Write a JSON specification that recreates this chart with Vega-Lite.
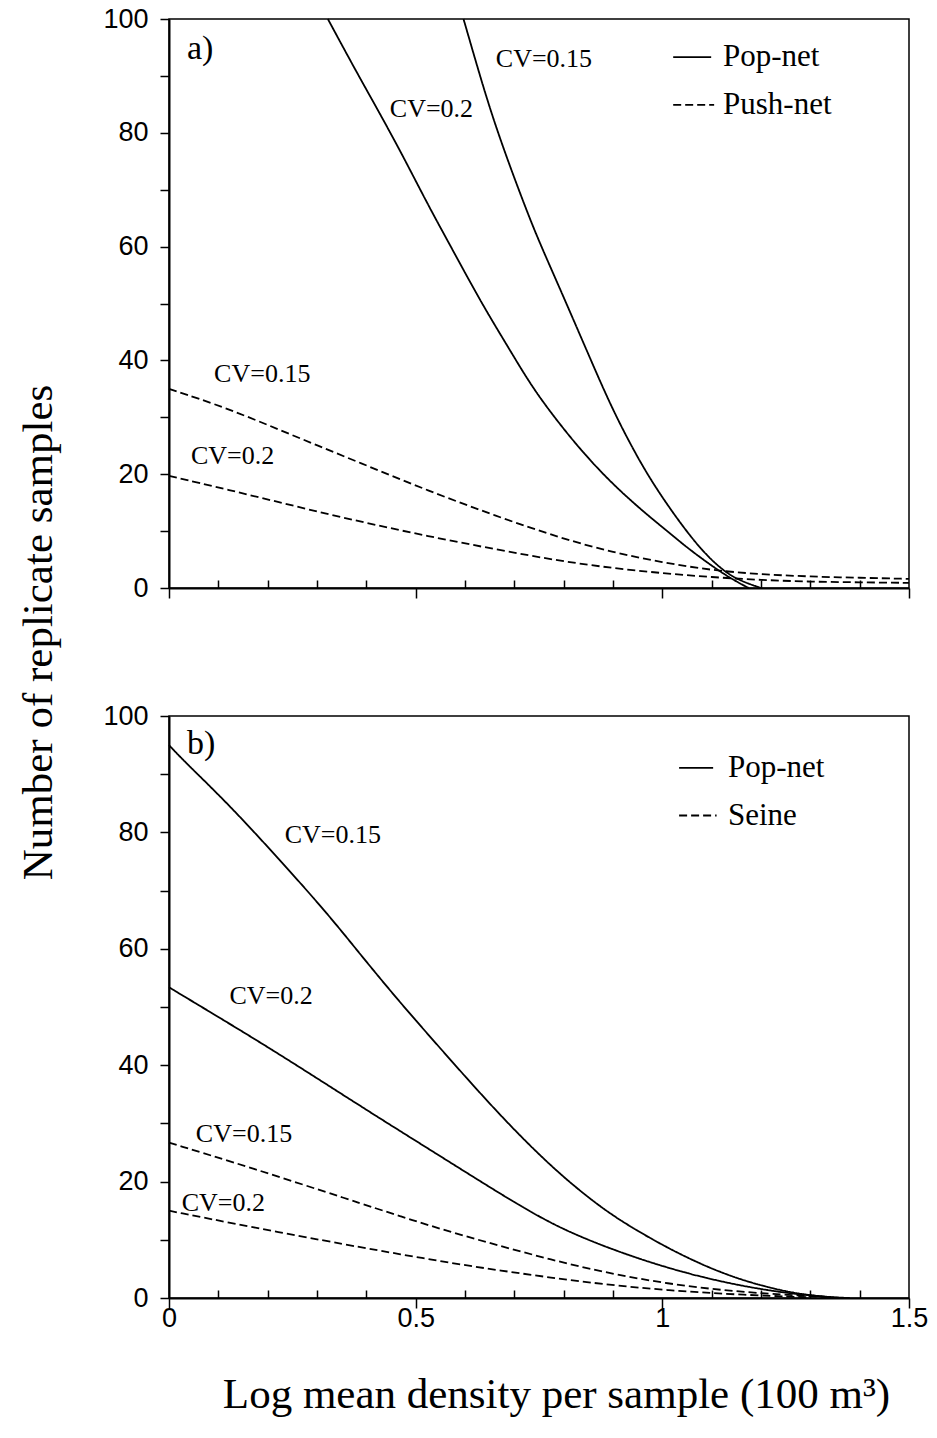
{
  "$schema": "https://vega.github.io/schema/vega-lite/v6.json",
  "background": "white",
  "padding": {"left": 16, "top": 4, "right": 5, "bottom": 5},
  "bounds": "flush",
  "spacing": 128,
  "config": {
    "view": {"stroke": "black", "strokeWidth": 1.5},
    "axis": {"domainColor": "black", "tickColor": "black", "labelColor": "black", "titleColor": "black", "grid": false, "domainWidth": 2, "tickWidth": 1.5}
  },
  "datasets": {
    "curvesA": [
      {"series": "pop02", "gear": "Pop-net", "x": 0.322, "y": 100},
      {"series": "pop02", "gear": "Pop-net", "x": 0.378, "y": 91},
      {"series": "pop02", "gear": "Pop-net", "x": 0.43, "y": 83},
      {"series": "pop02", "gear": "Pop-net", "x": 0.478, "y": 75.3},
      {"series": "pop02", "gear": "Pop-net", "x": 0.524, "y": 67.5},
      {"series": "pop02", "gear": "Pop-net", "x": 0.565, "y": 61},
      {"series": "pop02", "gear": "Pop-net", "x": 0.605, "y": 54.6},
      {"series": "pop02", "gear": "Pop-net", "x": 0.645, "y": 48.4},
      {"series": "pop02", "gear": "Pop-net", "x": 0.687, "y": 42.4},
      {"series": "pop02", "gear": "Pop-net", "x": 0.72, "y": 37.6},
      {"series": "pop02", "gear": "Pop-net", "x": 0.755, "y": 33},
      {"series": "pop02", "gear": "Pop-net", "x": 0.81, "y": 26.8},
      {"series": "pop02", "gear": "Pop-net", "x": 0.864, "y": 21.4},
      {"series": "pop02", "gear": "Pop-net", "x": 0.915, "y": 17},
      {"series": "pop02", "gear": "Pop-net", "x": 0.966, "y": 13.1},
      {"series": "pop02", "gear": "Pop-net", "x": 1.01, "y": 10},
      {"series": "pop02", "gear": "Pop-net", "x": 1.05, "y": 7.1},
      {"series": "pop02", "gear": "Pop-net", "x": 1.1, "y": 3.9},
      {"series": "pop02", "gear": "Pop-net", "x": 1.14, "y": 1.6},
      {"series": "pop02", "gear": "Pop-net", "x": 1.175, "y": 0},
      {"series": "pop015", "gear": "Pop-net", "x": 0.597, "y": 100},
      {"series": "pop015", "gear": "Pop-net", "x": 0.621, "y": 92.8},
      {"series": "pop015", "gear": "Pop-net", "x": 0.645, "y": 85.8},
      {"series": "pop015", "gear": "Pop-net", "x": 0.667, "y": 80},
      {"series": "pop015", "gear": "Pop-net", "x": 0.69, "y": 74.4},
      {"series": "pop015", "gear": "Pop-net", "x": 0.715, "y": 68.6},
      {"series": "pop015", "gear": "Pop-net", "x": 0.741, "y": 62.8},
      {"series": "pop015", "gear": "Pop-net", "x": 0.769, "y": 57.2},
      {"series": "pop015", "gear": "Pop-net", "x": 0.796, "y": 51.9},
      {"series": "pop015", "gear": "Pop-net", "x": 0.823, "y": 46.5},
      {"series": "pop015", "gear": "Pop-net", "x": 0.85, "y": 41.1},
      {"series": "pop015", "gear": "Pop-net", "x": 0.877, "y": 35.7},
      {"series": "pop015", "gear": "Pop-net", "x": 0.905, "y": 30.4},
      {"series": "pop015", "gear": "Pop-net", "x": 0.94, "y": 24.5},
      {"series": "pop015", "gear": "Pop-net", "x": 0.975, "y": 19.2},
      {"series": "pop015", "gear": "Pop-net", "x": 1.015, "y": 14},
      {"series": "pop015", "gear": "Pop-net", "x": 1.054, "y": 9.4},
      {"series": "pop015", "gear": "Pop-net", "x": 1.085, "y": 6.2},
      {"series": "pop015", "gear": "Pop-net", "x": 1.116, "y": 3.6},
      {"series": "pop015", "gear": "Pop-net", "x": 1.15, "y": 1.5},
      {"series": "pop015", "gear": "Pop-net", "x": 1.2, "y": 0},
      {"series": "push015", "gear": "Push-net", "x": 0, "y": 35},
      {"series": "push015", "gear": "Push-net", "x": 0.119, "y": 31.6},
      {"series": "push015", "gear": "Push-net", "x": 0.254, "y": 26.7},
      {"series": "push015", "gear": "Push-net", "x": 0.39, "y": 21.9},
      {"series": "push015", "gear": "Push-net", "x": 0.525, "y": 17.1},
      {"series": "push015", "gear": "Push-net", "x": 0.661, "y": 12.7},
      {"series": "push015", "gear": "Push-net", "x": 0.796, "y": 8.7},
      {"series": "push015", "gear": "Push-net", "x": 0.898, "y": 6.3},
      {"series": "push015", "gear": "Push-net", "x": 1.0, "y": 4.5},
      {"series": "push015", "gear": "Push-net", "x": 1.1, "y": 3.1},
      {"series": "push015", "gear": "Push-net", "x": 1.2, "y": 2.4},
      {"series": "push015", "gear": "Push-net", "x": 1.3, "y": 2.0},
      {"series": "push015", "gear": "Push-net", "x": 1.4, "y": 1.8},
      {"series": "push015", "gear": "Push-net", "x": 1.5, "y": 1.6},
      {"series": "push02", "gear": "Push-net", "x": 0, "y": 19.7},
      {"series": "push02", "gear": "Push-net", "x": 0.119, "y": 17.3},
      {"series": "push02", "gear": "Push-net", "x": 0.254, "y": 14.4},
      {"series": "push02", "gear": "Push-net", "x": 0.39, "y": 11.6},
      {"series": "push02", "gear": "Push-net", "x": 0.525, "y": 9.1},
      {"series": "push02", "gear": "Push-net", "x": 0.661, "y": 6.8},
      {"series": "push02", "gear": "Push-net", "x": 0.796, "y": 4.7},
      {"series": "push02", "gear": "Push-net", "x": 0.898, "y": 3.5},
      {"series": "push02", "gear": "Push-net", "x": 1.0, "y": 2.6},
      {"series": "push02", "gear": "Push-net", "x": 1.1, "y": 1.9},
      {"series": "push02", "gear": "Push-net", "x": 1.2, "y": 1.4},
      {"series": "push02", "gear": "Push-net", "x": 1.3, "y": 1.1},
      {"series": "push02", "gear": "Push-net", "x": 1.4, "y": 1.0},
      {"series": "push02", "gear": "Push-net", "x": 1.5, "y": 0.9}
    ],
    "curvesB": [
      {"series": "pop015", "gear": "Pop-net", "x": 0, "y": 95},
      {"series": "pop015", "gear": "Pop-net", "x": 0.031, "y": 92.2},
      {"series": "pop015", "gear": "Pop-net", "x": 0.119, "y": 85},
      {"series": "pop015", "gear": "Pop-net", "x": 0.22, "y": 75.7},
      {"series": "pop015", "gear": "Pop-net", "x": 0.322, "y": 66},
      {"series": "pop015", "gear": "Pop-net", "x": 0.39, "y": 58.8},
      {"series": "pop015", "gear": "Pop-net", "x": 0.47, "y": 50.6},
      {"series": "pop015", "gear": "Pop-net", "x": 0.551, "y": 42.8},
      {"series": "pop015", "gear": "Pop-net", "x": 0.626, "y": 35.6},
      {"series": "pop015", "gear": "Pop-net", "x": 0.707, "y": 28.2},
      {"series": "pop015", "gear": "Pop-net", "x": 0.795, "y": 21},
      {"series": "pop015", "gear": "Pop-net", "x": 0.882, "y": 15.1},
      {"series": "pop015", "gear": "Pop-net", "x": 0.95, "y": 11.5},
      {"series": "pop015", "gear": "Pop-net", "x": 1.011, "y": 8.6},
      {"series": "pop015", "gear": "Pop-net", "x": 1.078, "y": 5.8},
      {"series": "pop015", "gear": "Pop-net", "x": 1.146, "y": 3.5},
      {"series": "pop015", "gear": "Pop-net", "x": 1.214, "y": 1.8},
      {"series": "pop015", "gear": "Pop-net", "x": 1.281, "y": 0.6},
      {"series": "pop015", "gear": "Pop-net", "x": 1.348, "y": 0.1},
      {"series": "pop015", "gear": "Pop-net", "x": 1.38, "y": 0},
      {"series": "pop02", "gear": "Pop-net", "x": 0, "y": 53.4},
      {"series": "pop02", "gear": "Pop-net", "x": 0.031, "y": 51.8},
      {"series": "pop02", "gear": "Pop-net", "x": 0.2, "y": 43.2},
      {"series": "pop02", "gear": "Pop-net", "x": 0.369, "y": 34},
      {"series": "pop02", "gear": "Pop-net", "x": 0.47, "y": 28.6},
      {"series": "pop02", "gear": "Pop-net", "x": 0.538, "y": 25},
      {"series": "pop02", "gear": "Pop-net", "x": 0.63, "y": 20.1},
      {"series": "pop02", "gear": "Pop-net", "x": 0.72, "y": 15.4},
      {"series": "pop02", "gear": "Pop-net", "x": 0.808, "y": 11.3},
      {"series": "pop02", "gear": "Pop-net", "x": 0.943, "y": 6.9},
      {"series": "pop02", "gear": "Pop-net", "x": 1.078, "y": 3.5},
      {"series": "pop02", "gear": "Pop-net", "x": 1.214, "y": 1.2},
      {"series": "pop02", "gear": "Pop-net", "x": 1.315, "y": 0.3},
      {"series": "pop02", "gear": "Pop-net", "x": 1.36, "y": 0},
      {"series": "seine015", "gear": "Seine", "x": 0, "y": 26.7},
      {"series": "seine015", "gear": "Seine", "x": 0.166, "y": 22.4},
      {"series": "seine015", "gear": "Seine", "x": 0.369, "y": 16.8},
      {"series": "seine015", "gear": "Seine", "x": 0.47, "y": 14},
      {"series": "seine015", "gear": "Seine", "x": 0.572, "y": 11.3},
      {"series": "seine015", "gear": "Seine", "x": 0.673, "y": 8.9},
      {"series": "seine015", "gear": "Seine", "x": 0.774, "y": 6.6},
      {"series": "seine015", "gear": "Seine", "x": 0.876, "y": 4.5},
      {"series": "seine015", "gear": "Seine", "x": 1.011, "y": 2.4},
      {"series": "seine015", "gear": "Seine", "x": 1.146, "y": 1.1},
      {"series": "seine015", "gear": "Seine", "x": 1.281, "y": 0.4},
      {"series": "seine015", "gear": "Seine", "x": 1.34, "y": 0.1},
      {"series": "seine02", "gear": "Seine", "x": 0, "y": 15},
      {"series": "seine02", "gear": "Seine", "x": 0.166, "y": 12.2},
      {"series": "seine02", "gear": "Seine", "x": 0.369, "y": 9},
      {"series": "seine02", "gear": "Seine", "x": 0.47, "y": 7.5},
      {"series": "seine02", "gear": "Seine", "x": 0.572, "y": 6},
      {"series": "seine02", "gear": "Seine", "x": 0.673, "y": 4.7},
      {"series": "seine02", "gear": "Seine", "x": 0.774, "y": 3.5},
      {"series": "seine02", "gear": "Seine", "x": 0.876, "y": 2.4},
      {"series": "seine02", "gear": "Seine", "x": 1.011, "y": 1.3},
      {"series": "seine02", "gear": "Seine", "x": 1.146, "y": 0.6},
      {"series": "seine02", "gear": "Seine", "x": 1.3, "y": 0.1}
    ],
    "labelsA": [
      {"x": 0.76, "y": 92.9, "label": "CV=0.15"},
      {"x": 0.532, "y": 84.2, "label": "CV=0.2"},
      {"x": 0.189, "y": 37.6, "label": "CV=0.15"},
      {"x": 0.129, "y": 23.2, "label": "CV=0.2"}
    ],
    "labelsB": [
      {"x": 0.332, "y": 79.6, "label": "CV=0.15"},
      {"x": 0.207, "y": 51.9, "label": "CV=0.2"},
      {"x": 0.152, "y": 28.2, "label": "CV=0.15"},
      {"x": 0.11, "y": 16.3, "label": "CV=0.2"}
    ],
    "panelA": [{"x": 0.063, "y": 94.7, "label": "a)"}],
    "panelB": [{"x": 0.065, "y": 95.2, "label": "b)"}],
    "legLinesA": [
      {"item": "p", "gear": "Pop-net", "x": 1.022, "y": 93.3},
      {"item": "p", "gear": "Pop-net", "x": 1.099, "y": 93.3},
      {"item": "q", "gear": "Push-net", "x": 1.022, "y": 84.9},
      {"item": "q", "gear": "Push-net", "x": 1.105, "y": 84.9}
    ],
    "legTextA": [
      {"x": 1.123, "y": 93.3, "label": "Pop-net"},
      {"x": 1.123, "y": 84.9, "label": "Push-net"}
    ],
    "legLinesB": [
      {"item": "p", "gear": "Pop-net", "x": 1.034, "y": 91.1},
      {"item": "p", "gear": "Pop-net", "x": 1.103, "y": 91.1},
      {"item": "q", "gear": "Seine", "x": 1.034, "y": 82.9},
      {"item": "q", "gear": "Seine", "x": 1.11, "y": 82.9}
    ],
    "legTextB": [
      {"x": 1.133, "y": 91.1, "label": "Pop-net"},
      {"x": 1.133, "y": 82.9, "label": "Seine"}
    ]
  },
  "vconcat": [
    {
      "width": 740,
      "height": 569,
      "encoding": {
        "x": {"field": "x", "type": "quantitative", "scale": {"domain": [0, 1.5], "nice": false},
          "axis": {"values": [0, 0.1, 0.2, 0.3, 0.4, 0.5, 0.6, 0.7, 0.8, 0.9, 1, 1.1, 1.2, 1.3, 1.4, 1.5], "labels": false, "title": null,
            "tickSize": {"condition": {"test": "abs(datum.value*2 - round(datum.value*2)) < 0.001", "value": 10}, "value": -8}}},
        "y": {"field": "y", "type": "quantitative", "scale": {"domain": [0, 100], "nice": false},
          "axis": {"values": [0, 10, 20, 30, 40, 50, 60, 70, 80, 90, 100], "labelExpr": "datum.value % 20 === 0 ? datum.label : ''",
            "tickSize": 9, "labelPadding": 12, "labelFont": "Liberation Sans", "labelFontSize": 27,
            "title": "Number of replicate samples", "titleFont": "Liberation Serif", "titleFontSize": 43, "titleFontWeight": "normal",
            "titleAngle": 270, "titleX": -131, "titleY": 613, "titleAlign": "center", "titleBaseline": "middle"}}
      },
      "layer": [
        {"data": {"name": "curvesA"}, "mark": {"type": "line", "color": "black", "strokeWidth": 1.8, "interpolate": "basis"},
          "encoding": {"detail": {"field": "series"},
            "strokeDash": {"field": "gear", "type": "nominal", "scale": {"domain": ["Pop-net", "Push-net"], "range": [[1, 0], [8, 4]]}, "legend": null}}},
        {"data": {"name": "legLinesA"}, "mark": {"type": "line", "color": "black", "strokeWidth": 1.8},
          "encoding": {"detail": {"field": "item"},
            "strokeDash": {"field": "gear", "type": "nominal", "legend": null}}},
        {"data": {"name": "labelsA"}, "mark": {"type": "text", "font": "Liberation Serif", "fontSize": 26, "align": "center", "baseline": "middle", "color": "black"},
          "encoding": {"text": {"field": "label"}}},
        {"data": {"name": "panelA"}, "mark": {"type": "text", "font": "Liberation Serif", "fontSize": 34, "align": "center", "baseline": "middle", "color": "black"},
          "encoding": {"text": {"field": "label"}}},
        {"data": {"name": "legTextA"}, "mark": {"type": "text", "font": "Liberation Serif", "fontSize": 31, "align": "left", "baseline": "middle", "color": "black"},
          "encoding": {"text": {"field": "label"}}}
      ]
    },
    {
      "width": 740,
      "height": 582,
      "encoding": {
        "x": {"field": "x", "type": "quantitative", "scale": {"domain": [0, 1.5], "nice": false},
          "axis": {"values": [0, 0.1, 0.2, 0.3, 0.4, 0.5, 0.6, 0.7, 0.8, 0.9, 1, 1.1, 1.2, 1.3, 1.4, 1.5],
            "labelExpr": "abs(datum.value*2 - round(datum.value*2)) < 0.001 ? format(datum.value, '~g') : ''",
            "labelFont": "Liberation Sans", "labelFontSize": 27, "labelPadding": -3, "labelFlush": false, "labelOverlap": false,
            "tickSize": {"condition": {"test": "abs(datum.value*2 - round(datum.value*2)) < 0.001", "value": 10}, "value": -8},
            "title": "Log mean density per sample (100 m³)", "titleFont": "Liberation Serif", "titleFontSize": 43, "titleFontWeight": "normal",
            "titleX": 387, "titleAlign": "center", "titlePadding": 42}},
        "y": {"field": "y", "type": "quantitative", "scale": {"domain": [0, 100], "nice": false},
          "axis": {"values": [0, 10, 20, 30, 40, 50, 60, 70, 80, 90, 100], "labelExpr": "datum.value % 20 === 0 ? datum.label : ''",
            "tickSize": 9, "labelPadding": 12, "labelFont": "Liberation Sans", "labelFontSize": 27, "title": null}}
      },
      "layer": [
        {"data": {"name": "curvesB"}, "mark": {"type": "line", "color": "black", "strokeWidth": 1.8, "interpolate": "basis"},
          "encoding": {"detail": {"field": "series"},
            "strokeDash": {"field": "gear", "type": "nominal", "scale": {"domain": ["Pop-net", "Seine"], "range": [[1, 0], [8, 4]]}, "legend": null}}},
        {"data": {"name": "legLinesB"}, "mark": {"type": "line", "color": "black", "strokeWidth": 1.8},
          "encoding": {"detail": {"field": "item"},
            "strokeDash": {"field": "gear", "type": "nominal", "legend": null}}},
        {"data": {"name": "labelsB"}, "mark": {"type": "text", "font": "Liberation Serif", "fontSize": 26, "align": "center", "baseline": "middle", "color": "black"},
          "encoding": {"text": {"field": "label"}}},
        {"data": {"name": "panelB"}, "mark": {"type": "text", "font": "Liberation Serif", "fontSize": 34, "align": "center", "baseline": "middle", "color": "black"},
          "encoding": {"text": {"field": "label"}}},
        {"data": {"name": "legTextB"}, "mark": {"type": "text", "font": "Liberation Serif", "fontSize": 31, "align": "left", "baseline": "middle", "color": "black"},
          "encoding": {"text": {"field": "label"}}}
      ]
    }
  ],
  "resolve": {"scale": {"strokeDash": "independent"}}
}
